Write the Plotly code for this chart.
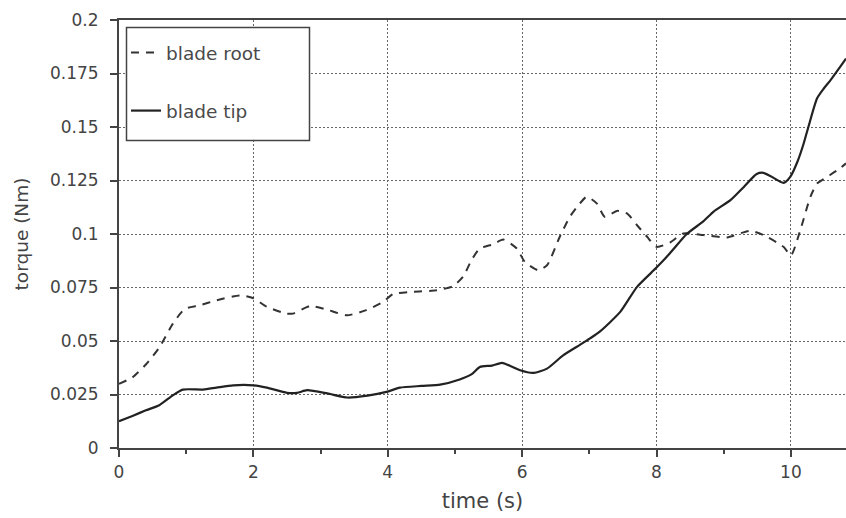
import plotly.graph_objects as go

# blade tip (solid)
tip_t = [0, 0.2, 0.4, 0.6, 0.8, 0.95, 1.25, 1.45, 1.7, 2.0, 2.2, 2.5, 2.65, 2.8, 3.1, 3.4, 3.7, 3.98,
         4.18, 4.5, 4.78, 5.07, 5.25, 5.37, 5.55, 5.7, 5.85, 5.97, 6.17, 6.37, 6.61, 6.86, 7.01, 7.16,
         7.46, 7.71, 8.0, 8.2, 8.45, 8.7, 8.85, 9.1, 9.3, 9.49, 9.59, 9.7, 9.89, 9.99, 10.1, 10.19,
         10.26, 10.39, 10.49, 10.59, 10.73, 10.82]
tip_v = [0.0125, 0.015, 0.0176, 0.020, 0.0246, 0.0273, 0.0273, 0.0282, 0.0293, 0.0293, 0.0282, 0.0258,
         0.0258, 0.027, 0.0255, 0.0236, 0.0245, 0.0262, 0.0282, 0.029, 0.0296, 0.032, 0.0345, 0.0379,
         0.0385, 0.0398, 0.038, 0.0363, 0.0351, 0.0371, 0.0433, 0.0482, 0.0512, 0.0545, 0.0636, 0.0753,
         0.0843, 0.091, 0.100, 0.106, 0.1105, 0.1158, 0.122, 0.128, 0.1286, 0.127, 0.1239, 0.1267,
         0.134, 0.1423, 0.150, 0.1634, 0.168, 0.1719, 0.178, 0.182]

# blade root (dashed)
root_t = [0, 0.2, 0.4, 0.6, 0.8, 0.98, 1.2, 1.45, 1.8, 2.0, 2.2, 2.49, 2.59, 2.84, 3.09, 3.39, 3.68,
          3.93, 4.08, 4.38, 4.73, 4.97, 5.12, 5.25, 5.37, 5.57, 5.72, 5.92, 6.04, 6.24, 6.37, 6.56,
          6.71, 6.86, 6.96, 7.11, 7.23, 7.41, 7.56, 7.71, 7.86, 8.0, 8.2, 8.4, 8.7, 9.05, 9.39, 9.59,
          9.89, 10.0, 10.14, 10.29, 10.39, 10.54, 10.7, 10.82]
root_v = [0.030, 0.033, 0.039, 0.047, 0.058, 0.065, 0.0667, 0.069, 0.0713, 0.070, 0.066, 0.0628,
          0.0628, 0.0663, 0.0647, 0.062, 0.0644, 0.0683, 0.0719, 0.073, 0.0737, 0.0756, 0.080, 0.088,
          0.0932, 0.0952, 0.0974, 0.0932, 0.087, 0.0831, 0.0854, 0.0987, 0.108, 0.1143, 0.1174,
          0.1143, 0.108, 0.1108, 0.1096, 0.1041, 0.0987, 0.094, 0.096, 0.1003, 0.0995, 0.0984,
          0.1015, 0.0995, 0.094, 0.090, 0.1018, 0.1174, 0.1236, 0.1267, 0.130, 0.133]

y_ticks = [0, 0.025, 0.05, 0.075, 0.1, 0.125, 0.15, 0.175, 0.2]
y_labels = ["0", "0.025", "0.05", "0.075", "0.1", "0.125", "0.15", "0.175", "0.2"]
x_ticks = [0, 2, 4, 6, 8, 10]

font_family = "DejaVu Sans, Liberation Sans, sans-serif"

fig = go.Figure()
fig.add_trace(go.Scatter(x=root_t, y=root_v, mode="lines", name="blade root",
                         line=dict(color="#333333", width=2, dash="8px,7px", shape="spline", smoothing=0.6),
                         legendgroup="a"))
fig.add_trace(go.Scatter(x=tip_t, y=tip_v, mode="lines", name="blade tip",
                         line=dict(color="#222222", width=2.2, shape="spline", smoothing=0.6),
                         legendgroup="b"))

# legend frame (white box behind the legend entries)
fig.add_shape(type="rect", xref="paper", yref="paper",
              x0=(126.5 - 119) / 727, x1=(309.5 - 119) / 727,
              y0=(448 - 140.5) / 428, y1=(448 - 27.5) / 428,
              fillcolor="white", line=dict(color="#444444", width=1.5), layer="above")

fig.update_layout(
    width=846, height=518,
    margin=dict(l=119, r=0, t=20, b=70),
    paper_bgcolor="white", plot_bgcolor="white",
    font=dict(family=font_family, color="#444444"),
    showlegend=True,
    legend=dict(x=(126 - 119) / 727, y=(448 - 34) / 428, xanchor="left", yanchor="top",
                bgcolor="rgba(0,0,0,0)", borderwidth=0,
                font=dict(size=18.5, color="#4a4a4a", family=font_family),
                tracegroupgap=31, itemwidth=30),
    xaxis=dict(range=[0, 10.82], tickvals=x_ticks, ticks="outside", ticklen=7, tickwidth=1.5,
               tickcolor="#444444", ticklabelstandoff=1,
               showline=True, linecolor="#444444", linewidth=2, mirror=True,
               showgrid=True, gridcolor="#666666", gridwidth=1, griddash="2px,2px",
               zeroline=False,
               minor=dict(dtick=1, tick0=0, ticks="outside", ticklen=4, tickcolor="#444444", showgrid=False),
               tickfont=dict(size=17, color="#444444"),
               title=dict(text="time (s)", font=dict(size=21, color="#444444"), standoff=12)),
    yaxis=dict(range=[0, 0.2], tickvals=y_ticks, ticktext=y_labels, ticks="outside", ticklen=7,
               tickwidth=1.5, tickcolor="#444444", ticklabelstandoff=8,
               showline=True, linecolor="#444444", linewidth=2, mirror=False,
               showgrid=True, gridcolor="#666666", gridwidth=1, griddash="2px,2px",
               zeroline=False,
               tickfont=dict(size=17, color="#444444"),
               title=dict(text="torque (Nm)", font=dict(size=18.5, color="#444444"), standoff=16)),
)

fig.write_html("out.html")
